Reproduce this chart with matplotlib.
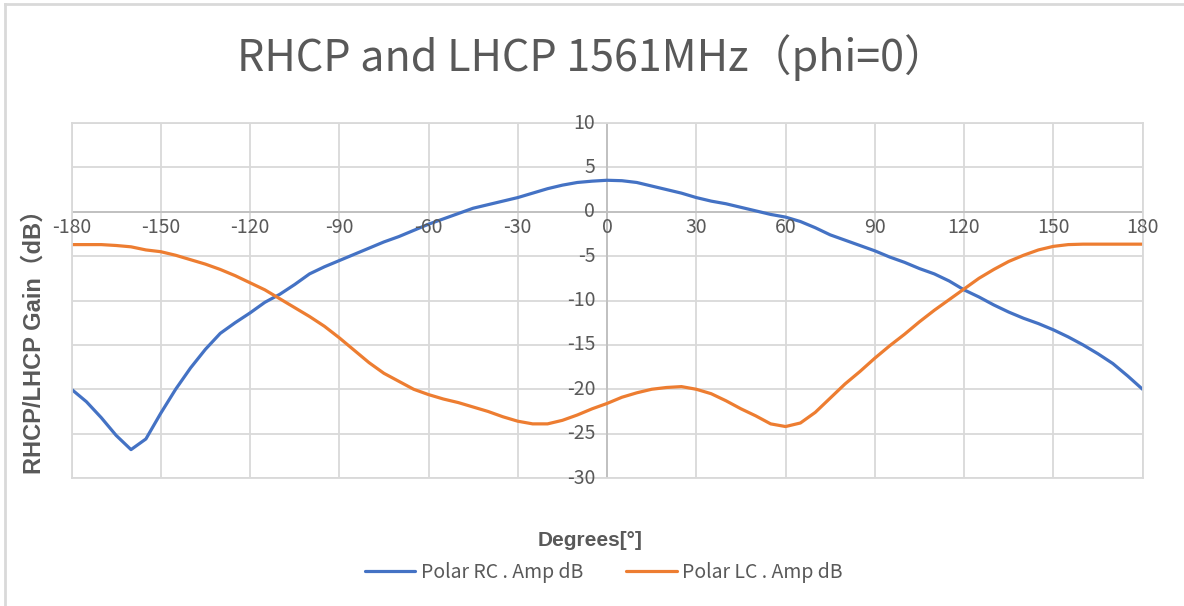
import matplotlib
matplotlib.use("Agg")
import matplotlib.pyplot as plt
from matplotlib.lines import Line2D

# angle (deg) and gain (dB), every 5 deg
angles = list(range(-180, 181, 5))
rhcp = [-20.0, -21.4, -23.2, -25.2, -26.8, -25.6, -22.7, -20.0, -17.6, -15.5,
        -13.7, -12.5, -11.4, -10.2, -9.3, -8.2, -7.0, -6.2, -5.5, -4.8,
        -4.1, -3.4, -2.8, -2.1, -1.4, -0.8, -0.2, 0.4, 0.8, 1.2,
        1.6, 2.1, 2.6, 3.0, 3.3, 3.45, 3.55, 3.5, 3.3, 2.9,
        2.5, 2.1, 1.6, 1.2, 0.9, 0.5, 0.1, -0.3, -0.6, -1.1,
        -1.8, -2.6, -3.2, -3.8, -4.4, -5.1, -5.7, -6.4, -7.0, -7.8,
        -8.8, -9.6, -10.5, -11.3, -12.0, -12.6, -13.3, -14.1, -15.0, -16.0,
        -17.1, -18.5, -20.0]
lhcp = [-3.7, -3.7, -3.7, -3.8, -3.95, -4.3, -4.5, -4.9, -5.4, -5.9,
        -6.5, -7.2, -8.0, -8.8, -9.8, -10.8, -11.8, -12.9, -14.2, -15.6,
        -17.0, -18.2, -19.1, -20.0, -20.6, -21.1, -21.5, -22.0, -22.5, -23.1,
        -23.6, -23.9, -23.9, -23.5, -22.9, -22.2, -21.6, -20.9, -20.4, -20.0,
        -19.8, -19.7, -20.0, -20.5, -21.3, -22.2, -23.0, -23.9, -24.2, -23.8,
        -22.6, -21.0, -19.4, -18.0, -16.5, -15.1, -13.8, -12.4, -11.1, -9.9,
        -8.7, -7.5, -6.5, -5.6, -4.9, -4.3, -3.9, -3.7, -3.65, -3.65,
        -3.65, -3.65, -3.65]
xticks = list(range(-180, 181, 30))
yticks = list(range(-30, 11, 5))

SANS = ["Noto Sans CJK SC", "DejaVu Sans"]
BOLD = ["Liberation Sans", "Noto Sans CJK SC", "DejaVu Sans"]
GRID = "#d9d9d9"
TXT = "#595959"

fig = plt.figure(figsize=(11.84, 6.06), dpi=100)
ax = fig.add_axes([0.0604, 0.2112, 0.9046, 0.5858])

ax.plot(angles, rhcp, color="#4472C4", lw=2.3, label="Polar RC . Amp dB",
        solid_capstyle="round", solid_joinstyle="round")
ax.plot(angles, lhcp, color="#ED7D31", lw=2.3, label="Polar LC . Amp dB",
        solid_capstyle="round", solid_joinstyle="round")

ax.set_xlim(-180, 180)
ax.set_ylim(-30, 10)
ax.set_xticks(xticks)
ax.set_yticks(yticks)
ax.grid(True, color=GRID, lw=1.3)
ax.set_axisbelow(True)
ax.tick_params(length=0, labelbottom=False, labelleft=False)
for s in ax.spines.values():
    s.set_color(GRID)
    s.set_linewidth(1.3)

# axes cross at the origin, Excel style
ax.axhline(0, color="#bfbfbf", lw=1.3, zorder=1.5)
ax.axvline(0, color="#bfbfbf", lw=1.3, zorder=1.5)
for t in xticks:
    ax.text(t, -0.6, str(t), ha="center", va="top", fontsize=14,
            color=TXT, family=SANS, fontweight="light")
for t in yticks:
    ax.text(-4, t, str(t), ha="right", va="center", fontsize=14,
            color=TXT, family=SANS, fontweight="light")

fig.text(0.5, 0.905, "RHCP and LHCP 1561MHz（phi=0）", ha="center", va="center",
         fontsize=31, color=TXT, family=SANS)
fig.text(0.029, 0.446, "RHCP/LHCP Gain（dB）", rotation=90, ha="center",
         va="center", fontsize=17, fontweight="bold", color=TXT, family=BOLD)
fig.text(0.498, 0.108, "Degrees[°]", ha="center", va="center", fontsize=15,
         fontweight="bold", color=TXT, family=BOLD)

leg = fig.legend(loc="center", bbox_to_anchor=(0.51, 0.056), ncol=2,
                 frameon=False, prop={"family": SANS, "size": 14},
                 handlelength=2.6, handletextpad=0.3, columnspacing=2.2)
for t in leg.get_texts():
    t.set_color(TXT)

# chart frame (only top and left edges show in the reference)
fig.add_artist(Line2D([0.004, 1.0], [0.993, 0.993], color=GRID, lw=2,
                      transform=fig.transFigure))
fig.add_artist(Line2D([0.004, 0.004], [0.0, 0.993], color=GRID, lw=2,
                      transform=fig.transFigure))

fig.savefig("out.png", dpi=100, facecolor="white")
